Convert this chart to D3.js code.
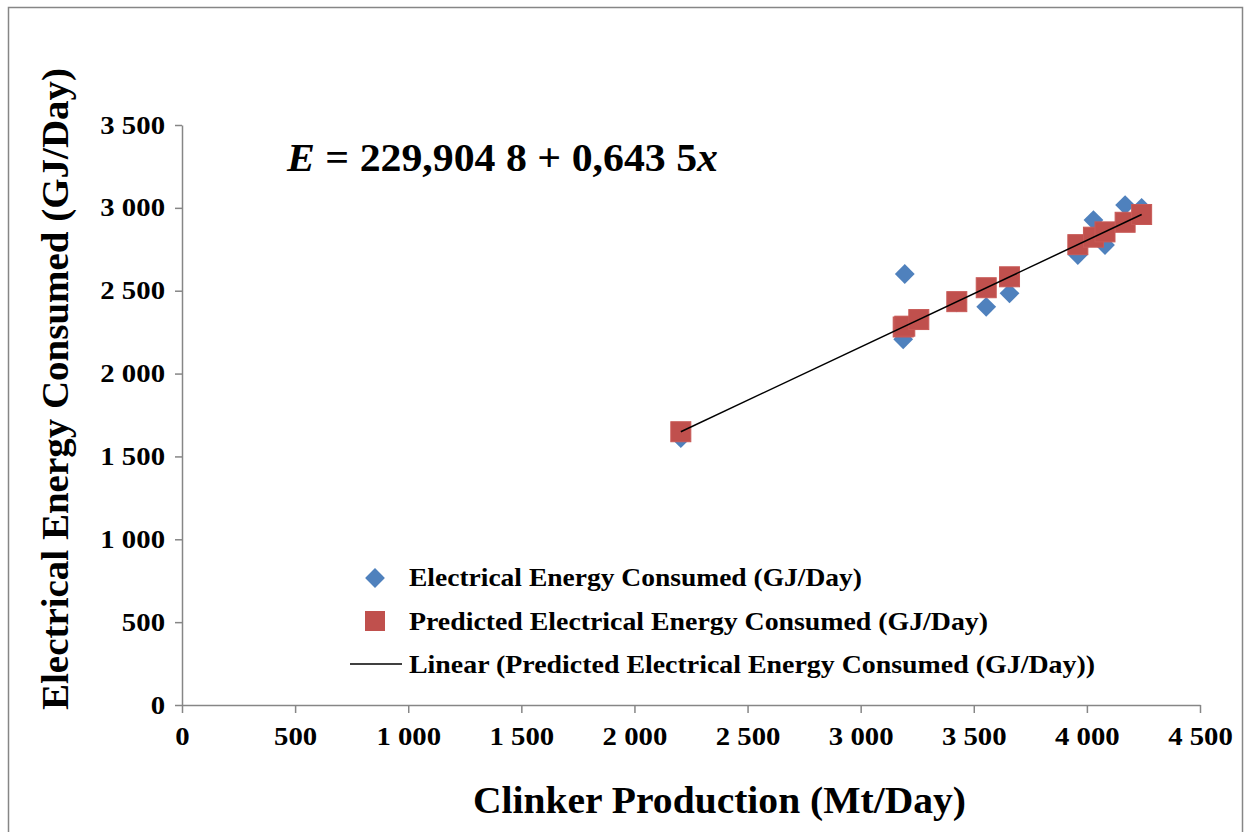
<!DOCTYPE html>
<html>
<head>
<meta charset="utf-8">
<script src="https://cdn.jsdelivr.net/npm/d3@7"></script>
<style>
  body { margin: 0; background: #fff; }
  text { font-family: 'Liberation Serif', serif; font-weight: bold; fill: #000; }
</style>
</head>
<body>
<div class="container"></div>
<script>
// clinker production (Mt/Day)
const clinker = [2205, 3188, 3195, 3257, 3425, 3555, 3658, 3960, 4029, 4080, 4169, 4242]
// measured electrical energy (GJ/Day)
const energy = [1610, 2207, 2601, 2330, 2430, 2403, 2484, 2715, 2926, 2776, 3017, 3000]
// predicted electrical energy (GJ/Day)
const predicted = [1649, 2281, 2286, 2326, 2434, 2518, 2584, 2778, 2823, 2855, 2913, 2960]

const xTicks = [0, 500, 1000, 1500, 2000, 2500, 3000, 3500, 4000, 4500]
const yTicks = [0, 500, 1000, 1500, 2000, 2500, 3000, 3500]

const seriesNames = [
  'Electrical Energy Consumed (GJ/Day)',
  'Predicted Electrical Energy Consumed (GJ/Day)',
  'Linear (Predicted Electrical Energy Consumed (GJ/Day))'
]

const w = 1251
const h = 832
const blue = '#4f81bd'
const red = '#c0504d'
const axisColor = '#868686'

const svg = d3.select('.container')
  .append('svg')
  .attr('width', w)
  .attr('height', h)

// outer chart frame
svg.append('rect')
  .attr('x', 8.5)
  .attr('y', 7.5)
  .attr('width', 1234)
  .attr('height', 840)
  .attr('fill', 'none')
  .attr('stroke', axisColor)
  .attr('stroke-width', 1.5)

const xScale = d3.scaleLinear().domain([0, 4500]).range([182, 1200])
const yScale = d3.scaleLinear().domain([0, 3500]).range([705, 125])

const loc = d3.formatLocale({ decimal: ',', thousands: '\u00a0', grouping: [3], currency: ['', ''] })
const fmt = loc.format(',')

// make glyphs wider, closer to the original Cambria look
function widen(sel, k) {
  sel.each(function () {
    const len = this.getComputedTextLength()
    d3.select(this).attr('textLength', len * k).attr('lengthAdjust', 'spacingAndGlyphs')
  })
}

const xAxis = svg.append('g')
  .attr('transform', 'translate(0, 705)')
  .call(d3.axisBottom(xScale).tickValues(xTicks).tickFormat(fmt).tickSizeInner(8).tickSizeOuter(0).tickPadding(14))
xAxis.selectAll('text').attr('font-size', 25).attr('font-family', null)
xAxis.selectAll('path, line').attr('stroke', axisColor).attr('stroke-width', 1.5)

const yAxis = svg.append('g')
  .attr('transform', 'translate(182, 0)')
  .call(d3.axisLeft(yScale).tickValues(yTicks).tickFormat(fmt).tickSizeInner(7).tickSizeOuter(0).tickPadding(10))
yAxis.selectAll('text').attr('font-size', 25).attr('font-family', null)
yAxis.selectAll('path, line').attr('stroke', axisColor).attr('stroke-width', 1.5)

widen(xAxis.selectAll('text'), 1.15)
widen(yAxis.selectAll('text'), 1.15)

const diamond = d3.symbol().type(d3.symbolDiamond2).size(250)

// measured values
svg.append('g')
  .selectAll('path')
  .data(clinker)
  .enter()
  .append('path')
  .attr('d', diamond)
  .attr('transform', (d, i) => `translate(${xScale(d)}, ${yScale(energy[i])})`)
  .attr('fill', blue)

// predicted values
svg.append('g')
  .selectAll('rect')
  .data(clinker)
  .enter()
  .append('rect')
  .attr('x', d => xScale(d) - 10)
  .attr('y', (d, i) => yScale(predicted[i]) - 10)
  .attr('width', 20)
  .attr('height', 20)
  .attr('fill', red)
  .attr('stroke', '#c85a57')
  .attr('stroke-width', 1)

// least squares trendline over the predicted series
const mx = d3.mean(clinker)
const my = d3.mean(predicted)
const slope = d3.sum(clinker, (d, i) => (d - mx) * (predicted[i] - my)) / d3.sum(clinker, d => (d - mx) ** 2)
const icept = my - slope * mx
const [x0, x1] = d3.extent(clinker)

svg.append('line')
  .attr('x1', xScale(x0))
  .attr('y1', yScale(icept + slope * x0))
  .attr('x2', xScale(x1))
  .attr('y2', yScale(icept + slope * x1))
  .attr('stroke', '#000')
  .attr('stroke-width', 1.5)

// equation
const eq = svg.append('text')
  .attr('x', 287)
  .attr('y', 171)
  .attr('font-size', 40)
  .attr('textLength', 431)
  .attr('lengthAdjust', 'spacingAndGlyphs')
eq.append('tspan').attr('font-style', 'italic').text('E')
eq.append('tspan').text(' = 229,904 8 + 0,643 5')
eq.append('tspan').attr('font-style', 'italic').text('x')

// legend
const legend = svg.append('g')
legend.append('path')
  .attr('d', diamond)
  .attr('transform', 'translate(375, 578)')
  .attr('fill', blue)
legend.append('rect')
  .attr('x', 365)
  .attr('y', 611)
  .attr('width', 20)
  .attr('height', 20)
  .attr('fill', red)
legend.append('line')
  .attr('x1', 350)
  .attr('x2', 402)
  .attr('y1', 664)
  .attr('y2', 664)
  .attr('stroke', '#000')
  .attr('stroke-width', 1.5)

const legendWidths = [453, 579, 686]
legend.selectAll('text')
  .data(seriesNames)
  .enter()
  .append('text')
  .text(d => d)
  .attr('x', 409)
  .attr('y', (d, i) => 586 + i * 43.5)
  .attr('font-size', 25)
  .attr('textLength', (d, i) => legendWidths[i])
  .attr('lengthAdjust', 'spacingAndGlyphs')

// axis titles
svg.append('text')
  .text('Clinker Production (Mt/Day)')
  .attr('x', 473)
  .attr('y', 813)
  .attr('font-size', 38)
  .attr('textLength', 493)
  .attr('lengthAdjust', 'spacingAndGlyphs')

svg.append('text')
  .text('Electrical Energy Consumed (GJ/Day)')
  .attr('transform', 'translate(68, 710) rotate(-90)')
  .attr('font-size', 38)
  .attr('textLength', 642)
  .attr('lengthAdjust', 'spacingAndGlyphs')
</script>
</body>
</html>
